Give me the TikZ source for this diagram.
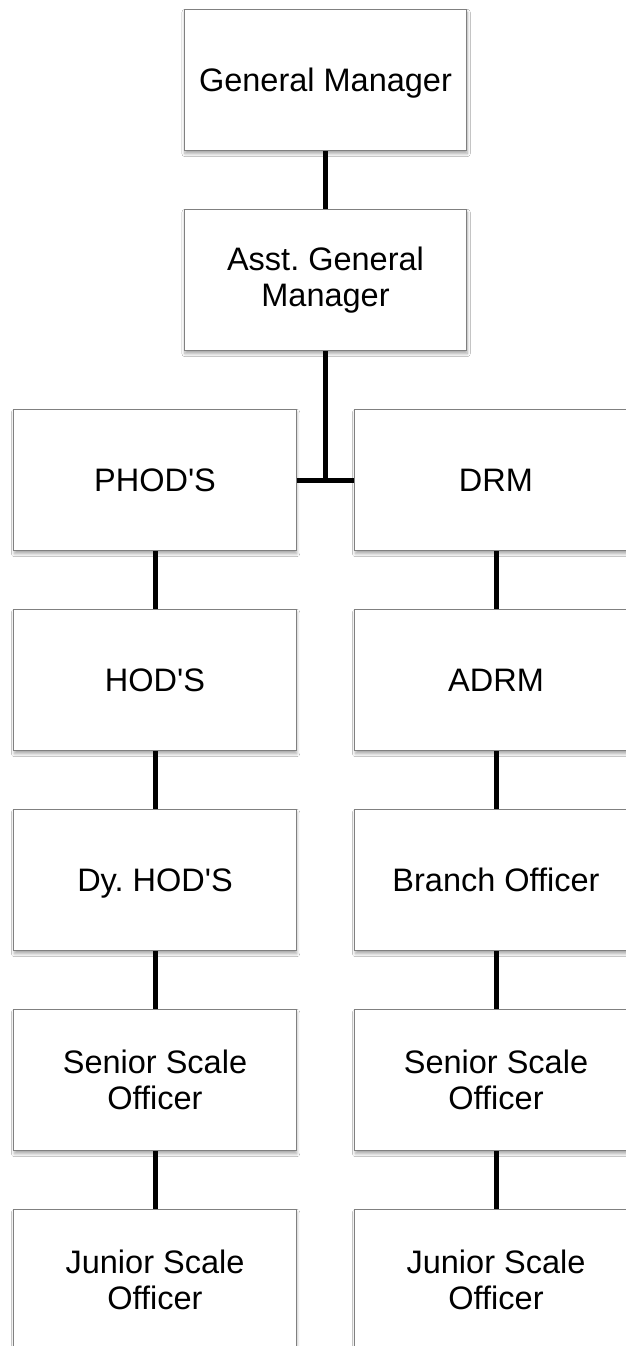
\documentclass[tikz,border=0pt]{standalone}
\usepackage{fontspec}
\setmainfont{Liberation Sans}
\usetikzlibrary{shadows.blur}
\newcommand{\ap}{\textquotesingle}
\frenchspacing
\begin{document}
\begin{tikzpicture}[x=1pt,y=-1pt,
  post/.style={rectangle, draw=black!50, line width=0.9pt, fill=white,
    minimum width=282.3pt, minimum height=141.4pt, inner sep=0pt,
    align=center, font=\fontsize{32.5}{36}\selectfont,
    blur shadow={shadow xshift=0.6pt, shadow yshift=-3pt, shadow blur steps=6, shadow blur radius=3pt, shadow opacity=35}},
  oneline/.style={text height=23pt, text depth=0pt},
  link/.style={draw=black, line width=5pt}]
  \clip (0,0) rectangle (626,1346);
  \fill[white] (0,0) rectangle (626,1346);

  % top of the hierarchy
  \node[post, oneline] (gm) at (325.5,80) {General Manager};
  \node[post] (agm)  at (325.5,280) {Asst. General\\Manager};

  % left branch
  \node[post, oneline] (phod) at (155,480) {PHOD\ap S};
  \node[post, oneline] (hod)  at (155,680) {HOD\ap S};
  \node[post, oneline] (dhod) at (155,880) {Dy. HOD\ap S};
  \node[post] (sso1) at (155,1080) {Senior Scale\\Officer};
  \node[post] (jso1) at (155,1280) {Junior Scale\\Officer};

  % right branch
  \node[post, oneline] (drm)  at (496,480) {DRM};
  \node[post, oneline] (adrm) at (496,680) {ADRM};
  \node[post, oneline] (bo)   at (496,880) {Branch Officer};
  \node[post] (sso2) at (496,1080) {Senior Scale\\Officer};
  \node[post] (jso2) at (496,1280) {Junior Scale\\Officer};

  \coordinate (split) at (325.5,480);

  % connectors
  \draw[link] (gm.south) -- (agm.north);
  \draw[link] (agm.south) -- (split);
  \draw[link] (phod.east) -- (drm.west);
  \draw[link] (phod.south) -- (hod.north);
  \draw[link] (hod.south) -- (dhod.north);
  \draw[link] (dhod.south) -- (sso1.north);
  \draw[link] (sso1.south) -- (jso1.north);
  \draw[link] (drm.south) -- (adrm.north);
  \draw[link] (adrm.south) -- (bo.north);
  \draw[link] (bo.south) -- (sso2.north);
  \draw[link] (sso2.south) -- (jso2.north);
\end{tikzpicture}
\end{document}
